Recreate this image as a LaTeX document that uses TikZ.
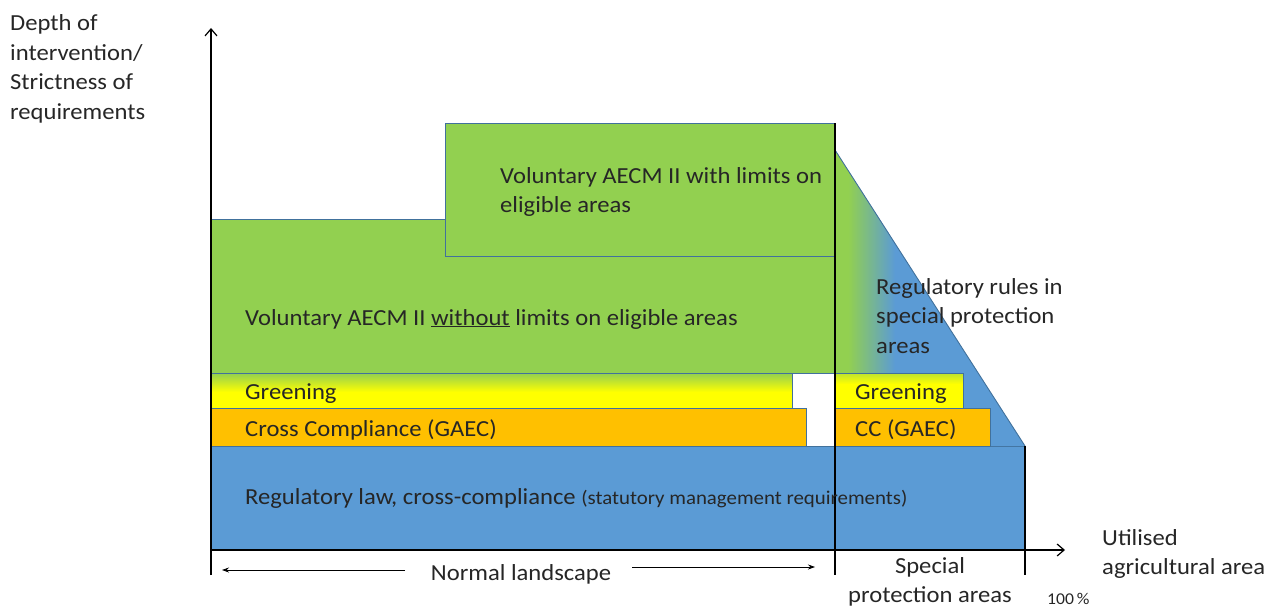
\documentclass[tikz,border=0pt]{standalone}
\usepackage{fontspec}
\setmainfont{Carlito}[FakeStretch=1.07]
\usetikzlibrary{arrows.meta}
\definecolor{cgreen}{HTML}{92D050}
\definecolor{cyellow}{HTML}{FFFF00}
\definecolor{corange}{HTML}{FFC000}
\definecolor{cblue}{HTML}{5B9BD5}
\definecolor{cedge}{HTML}{41719C}
\tikzset{
  box/.style={draw=cedge, line width=0.9pt},
  lbl/.style={inner sep=0pt, font=\fontsize{23}{29.5}\selectfont, text=black!85},
  axis/.style={line width=1.2pt, -{Straight Barb[length=7pt,width=12pt,line width=1.2pt]}},
  tick/.style={line width=1.2pt},
  small arrow/.style={line width=0.8pt, -{Stealth[length=7pt,width=5pt]}}
}
\begin{document}
\begin{tikzpicture}[x=1pt,y=-1pt]
\useasboundingbox (0,0) rectangle (1273,610);
% bottom blue
\fill[cblue] (211,446) rectangle (1025,550);
\draw[box] (211,550) -- (211,446) -- (1025,446);
% triangle
\fill[cblue] (835,150) -- (1025,446) -- (835,446) -- cycle;
\begin{scope}
\clip (835,150) -- (1025,446) -- (835,446) -- cycle;
\shade[left color=cgreen, right color=cblue] (848,140) rectangle (895,446);
\fill[cgreen] (835,140) rectangle (849,446);
\end{scope}
\draw[box] (835,150) -- (1025,446);
% green rects
\fill[cgreen] (211,219) rectangle (835,373);
\draw[box] (211,373) -- (211,219) -- (445,219);
\fill[cgreen] (445,123) rectangle (835,256);
\draw[box] (445,256) rectangle (835,123);
% greening left
\fill[cyellow] (211,373) rectangle (792,408);
\shade[top color=cgreen, bottom color=cyellow] (211,373) rectangle (792,392);
\draw[box] (211,373) rectangle (792,408);
% CC left
\fill[corange] (211,408) rectangle (806,446);
\draw[box] (211,408) rectangle (806,446);
% greening right
\fill[cyellow] (835,373) rectangle (963,408);
\shade[top color=cgreen!60!cyellow, bottom color=cyellow] (835,373) rectangle (963,384);
\draw[box] (835,373) rectangle (963,408);
% CC right
\fill[corange] (835,408) rectangle (990,446);
\draw[box] (835,408) rectangle (990,446);
\draw[box] (211,373) -- (835,373);
% separators and axes
\coordinate (ybot) at (211,575);
\coordinate (ytop) at (211,28);
\coordinate (xl) at (211,550);
\coordinate (xr) at (1065,550);
\coordinate (s1) at (835,123);
\coordinate (s2) at (835,575);
\coordinate (t1) at (1025,446);
\coordinate (t2) at (1025,575);
\draw[tick] (s1) -- (s2);
\draw[tick] (t1) -- (t2);
\draw[axis] (ybot) -- (ytop);
\draw[axis] (xl) -- (xr);
% texts
\node[lbl, anchor=west, align=left] (yl) at (10,69) {Depth of\\intervention/\\Strictness of\\requirements};
\node[lbl, anchor=west, align=left] (top) at (500,192) {Voluntary AECM II with limits on\\eligible areas};
\node[lbl, anchor=west] (big) at (245,319) {Voluntary AECM II \underline{without} limits on eligible areas};
\node[lbl, anchor=west, align=left] (reg) at (876,316) {Regulatory rules in\\special protection\\areas};
\node[lbl, anchor=west] (g1) at (245,394) {Greening};
\node[lbl, anchor=west] (c1) at (245,430) {Cross Compliance (GAEC)};
\node[lbl, anchor=west] (g2) at (855,394) {Greening};
\node[lbl, anchor=west] (c2) at (855,430) {CC (GAEC)};
\node[lbl, anchor=west] (law) at (245,498) {Regulatory law, cross-compliance {\fontsize{19.5}{22}\selectfont (statutory management\ requirements)}};
\node[lbl, anchor=west, align=left] (ua) at (1102,554) {Utilised\\agricultural area};
\node[lbl, align=center] (spa) at (930,582) {Special\\protection areas};
\node[lbl, anchor=west, font=\fontsize{16.5}{20}\selectfont] (pc) at (1047,599) {100\,\%};
\node[lbl] (nl) at (521,574) {Normal landscape};
\coordinate (al0) at (405,570);
\coordinate (al) at (222,570);
\coordinate (ar0) at (632,567);
\coordinate (ar) at (815,567);
\draw[small arrow] (al0) -- (al);
\draw[small arrow] (ar0) -- (ar);
\end{tikzpicture}
\end{document}
